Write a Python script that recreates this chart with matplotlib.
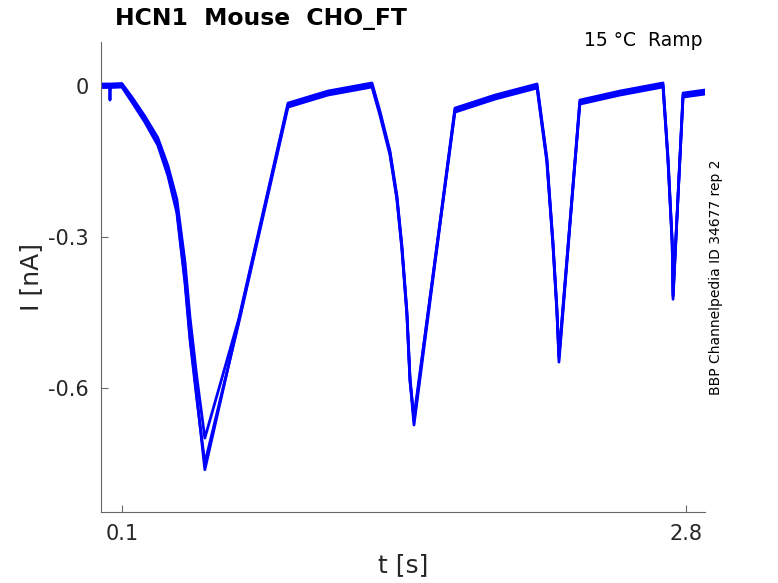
import numpy as np
import matplotlib
matplotlib.use('Agg')
import matplotlib.pyplot as plt

# time points (s)
t = [0.0, 0.040, 0.043, 0.046, 0.1, 0.148, 0.210, 0.272, 0.320, 0.363, 0.402, 0.426,
     0.459, 0.497, 0.660, 0.895, 1.086, 1.297, 1.335, 1.383, 1.416, 1.440, 1.464,
     1.479, 1.498, 1.694, 1.886, 2.087, 2.134, 2.163, 2.182, 2.192, 2.292, 2.484,
     2.690, 2.714, 2.734, 2.738, 2.786, 2.891]

# three sweeps (nA)
sweep1 = [0.0, 0.0, -0.028, 0.0, 0.002, -0.028, -0.068, -0.113, -0.173, -0.247, -0.386, -0.499,
          -0.618, -0.763, -0.466, -0.038, -0.014, 0.002, -0.054, -0.133, -0.221, -0.320, -0.451,
          -0.584, -0.674, -0.048, -0.022, 0.0, -0.147, -0.312, -0.445, -0.549, -0.032, -0.014,
          0.002, -0.147, -0.312, -0.424, -0.018, -0.012]
sweep2 = [0.004, 0.004, 0.004, 0.004, 0.005, -0.022, -0.060, -0.103, -0.158, -0.225, -0.350, -0.460,
          -0.580, -0.700, -0.462, -0.034, -0.010, 0.006, -0.050, -0.129, -0.217, -0.316, -0.447,
          -0.580, -0.665, -0.044, -0.018, 0.004, -0.143, -0.308, -0.441, -0.540, -0.028, -0.010,
          0.006, -0.143, -0.308, -0.418, -0.014, -0.008]
sweep3 = [-0.003, -0.003, -0.003, -0.003, -0.002, -0.032, -0.072, -0.118, -0.178, -0.252, -0.392, -0.505,
          -0.624, -0.750, -0.470, -0.042, -0.018, -0.002, -0.058, -0.137, -0.225, -0.324, -0.455,
          -0.588, -0.658, -0.052, -0.026, -0.004, -0.151, -0.316, -0.449, -0.535, -0.036, -0.018,
          -0.002, -0.151, -0.316, -0.415, -0.022, -0.016]

xticks = [0.1, 2.8]
yticks = [-0.6, -0.3, 0]

fig = plt.figure(figsize=(7.78, 5.83), dpi=100)
ax = fig.add_axes([101 / 778, 1 - 512 / 583, (705 - 101) / 778, (512 - 42) / 583])

for s in [sweep1, sweep2, sweep3]:
    ax.plot(t, s, color='#0000ff', lw=2.0)

ax.set_xlim(0.0, 2.891)
ax.set_ylim(-0.847, 0.0875)
ax.set_xticks(xticks)
ax.set_xticklabels(['0.1', '2.8'])
ax.set_yticks(yticks)
ax.set_yticklabels(['-0.6', '-0.3', '0'])

for side in ['top', 'right']:
    ax.spines[side].set_visible(False)
for side in ['left', 'bottom']:
    ax.spines[side].set_color('#666666')
ax.tick_params(direction='in', length=5, color='#666666', labelcolor='#262626',
               labelsize=15, pad=9)

ax.set_xlabel('t [s]', fontsize=18, color='#262626', labelpad=6)
ax.set_ylabel('I [nA]', fontsize=18, color='#262626', labelpad=3)

fig.text(115 / 778, 1 - 18 / 583, 'HCN1  Mouse  CHO_FT', fontsize=16.9, fontweight='bold',
         va='center', ha='left')
fig.text(703 / 778, 1 - 41 / 583, '15 °C  Ramp', fontsize=13.5, va='center', ha='right')
fig.text(716 / 778, 1 - 277 / 583, 'BBP Channelpedia ID 34677 rep 2', fontsize=10,
         rotation=90, va='center', ha='center')

fig.savefig('out.png', dpi=100)
